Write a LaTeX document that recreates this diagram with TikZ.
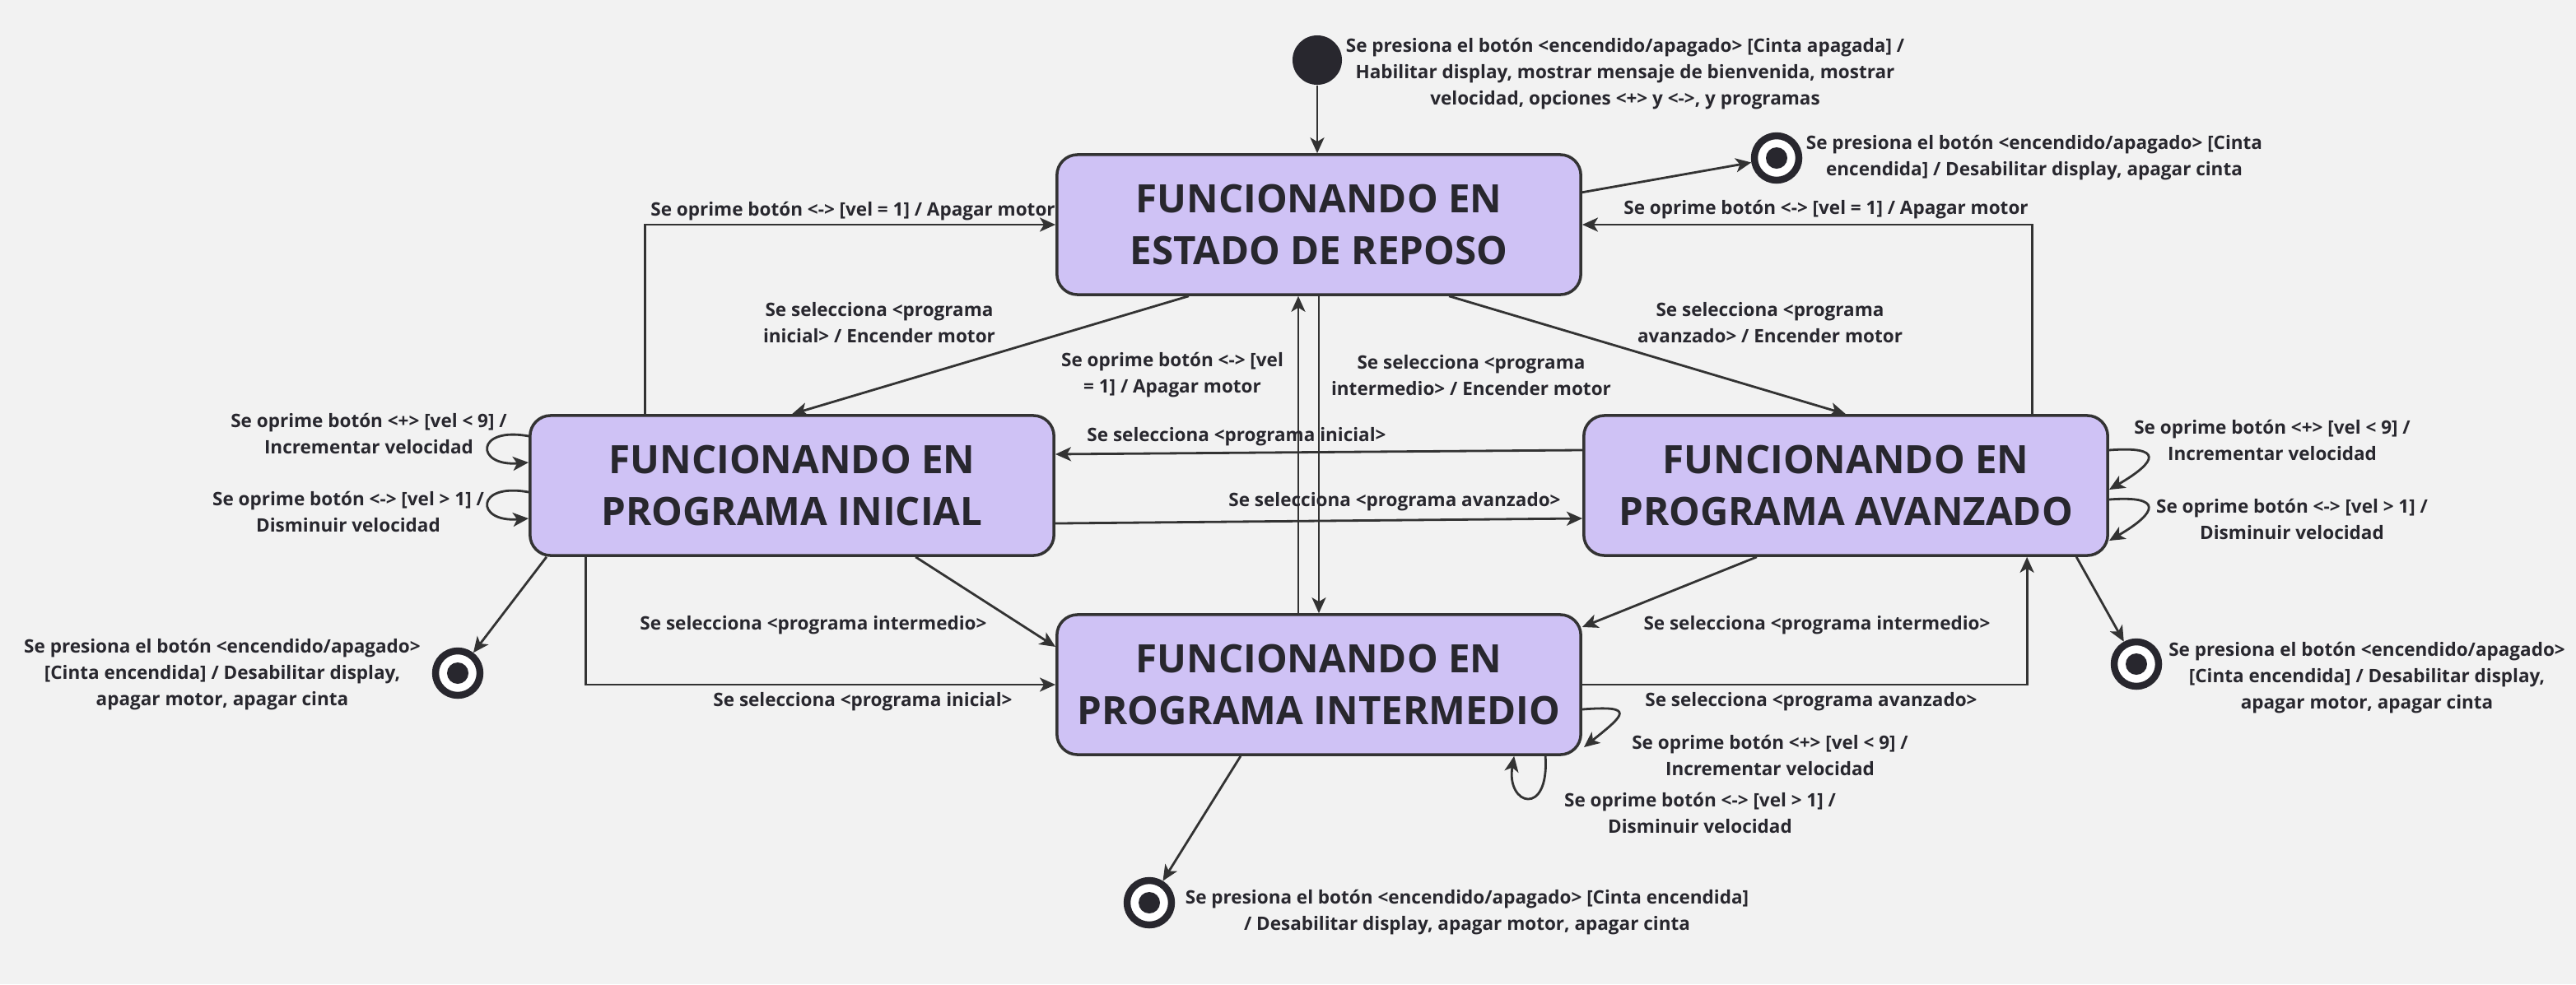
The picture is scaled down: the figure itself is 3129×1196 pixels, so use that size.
\documentclass[tikz,border=0pt]{standalone}
\usepackage{fontspec}
\setmainfont{Open Sans}
\usetikzlibrary{arrows.meta}

\definecolor{fondo}{RGB}{242,242,242}
\definecolor{lila}{RGB}{207,194,245}
\definecolor{trazo}{RGB}{51,51,51}
\definecolor{texto}{RGB}{40,39,46}

\begin{document}
\begin{tikzpicture}[x=0.01cm, y=-0.01cm,
	estado/.style={draw=trazo, line width=1pt, fill=lila, rounded corners=0.25cm,
		minimum width=6.36cm, minimum height=1.7cm, align=center, text=texto,
		font=\fontsize{13.5}{17.9}\selectfont\bfseries},
	etiqueta/.style={align=center, inner sep=0pt, text=texto,
		font=\fontsize{6.4}{9.1}\selectfont\bfseries},
	inicio/.style={circle, fill=texto, minimum size=0.6cm, inner sep=0pt},
	fin/.style={circle, draw=texto, line width=2.4pt, fill=white, minimum size=0.54cm,
		inner sep=0pt, path picture={\fill[texto] (path picture bounding box.center) circle (0.13cm);}},
	flecha/.style={draw=trazo, line width=0.8pt, -{Stealth[length=0.19cm, width=0.17cm, inset=0.05cm]}}
]

	% ---- background

	\path[use as bounding box, fill=fondo] (0,0) rectangle (3129,1196);

	% ---- states

	\node[estado] (reposo)     at (1602,273) {FUNCIONANDO EN\\ESTADO DE REPOSO};
	\node[estado] (inicial)    at (962,590)  {FUNCIONANDO EN\\PROGRAMA INICIAL};
	\node[estado] (avanzado)   at (2242,590) {FUNCIONANDO EN\\PROGRAMA AVANZADO};
	\node[estado] (intermedio) at (1602,832) {FUNCIONANDO EN\\PROGRAMA INTERMEDIO};

	\node[inicio] (ini) at (1600,73) {};

	\foreach \n/\x/\y in {finA/2158/192, finI/556/818, finD/2595/807, finM/1396/1097} {
		\node[fin] (\n) at (\x,\y) {};
	}

	% ---- transitions

	\draw[flecha] (ini) -- (ini |- reposo.north);
	\draw[flecha] (reposo.7) -- (finA);

	\draw[flecha] ([xshift=2.26cm]avanzado.north) |- (reposo.east);
	\draw[flecha] ([xshift=-1.78cm]inicial.north) |- (reposo.west);

	\draw[flecha] ([xshift=-1.58cm]reposo.south) -- (inicial.north);
	\draw[flecha] ([xshift=1.58cm]reposo.south) -- (avanzado.north);

	\draw[flecha] ([xshift=-0.25cm]intermedio.north) -- ([xshift=-0.25cm]reposo.south);
	\draw[flecha] (reposo.south) -- (intermedio.north);

	\draw[flecha] ([yshift=0.43cm]avanzado.west) -- ([yshift=0.38cm]inicial.east);
	\draw[flecha] ([yshift=-0.46cm]inicial.east) -- ([yshift=-0.40cm]avanzado.west);

	\draw[flecha] ([xshift=1.5cm]inicial.south) -- ([yshift=0.46cm]intermedio.west);
	\draw[flecha] ([xshift=-2.5cm]inicial.south) |- (intermedio.west);

	\draw[flecha] ([xshift=-1.08cm]avanzado.south) -- ([yshift=0.7cm]intermedio.east);
	\draw[flecha] (intermedio.east) -| ([xshift=2.2cm]avanzado.south);

	\draw[flecha] ([xshift=-2.98cm]inicial.south) -- (finI);
	\draw[flecha] ([xshift=2.8cm]avanzado.south) -- (finD);
	\draw[flecha] ([xshift=-0.95cm]intermedio.south) -- (finM);

	% ---- self loops

	\draw[flecha] ([yshift=0.60cm]inicial.west) .. controls +(-65,-12) and +(-65,5) .. ([yshift=0.28cm]inicial.west);
	\draw[flecha] ([yshift=-0.08cm]inicial.west) .. controls +(-65,-12) and +(-65,5) .. ([yshift=-0.40cm]inicial.west);

	\draw[flecha] ([yshift=0.43cm]avanzado.east) .. controls +(65,-5) and +(60,-35) .. ([yshift=-0.05cm]avanzado.east);
	\draw[flecha] ([yshift=-0.17cm]avanzado.east) .. controls +(65,-5) and +(60,-35) .. ([yshift=-0.67cm]avanzado.east);

	\draw[flecha] ([yshift=-0.30cm]intermedio.east) .. controls +(65,-5) and +(50,-40) .. ([xshift=0.02cm, yshift=-0.76cm]intermedio.east);
	\draw[flecha] ([xshift=2.75cm]intermedio.south) .. controls +(5,75) and +(-10,60) .. ([xshift=2.37cm]intermedio.south);

	% ---- labels

	\node[etiqueta] (e1) at (1974,90) {Se presiona el botón <encendido/apagado> [Cinta apagada] /\\Habilitar display, mostrar mensaje de bienvenida, mostrar\\velocidad, opciones <+> y <->, y programas};
	\node[etiqueta] (e2) at (2471,192) {Se presiona el botón <encendido/apagado> [Cinta\\encendida] / Desabilitar display, apagar cinta};
	\node[etiqueta] (e3) at (2218,255) {Se oprime botón <-> [vel = 1] / Apagar motor};
	\node[etiqueta] (e4) at (1036,257) {Se oprime botón <-> [vel = 1] / Apagar motor};
	\node[etiqueta] (e5) at (1068,392) {Se selecciona <programa\\inicial> / Encender motor};
	\node[etiqueta] (e6) at (2150,392) {Se selecciona <programa\\avanzado> / Encender motor};
	\node[etiqueta] (e7) at (1424,456) {Se oprime botón <-> [vel\\= 1] / Apagar motor};
	\node[etiqueta] (e8) at (1787,456) {Se selecciona <programa\\intermedio> / Encender motor};
	\node[etiqueta] (e9) at (1502,531) {Se selecciona <programa inicial>};
	\node[etiqueta] (e10) at (1694,610) {Se selecciona <programa avanzado>};
	\node[etiqueta] (e11) at (448,527) {Se oprime botón <+> [vel < 9] /\\Incrementar velocidad};
	\node[etiqueta] (e12) at (423,622) {Se oprime botón <-> [vel > 1] /\\Disminuir velocidad};
	\node[etiqueta] (e13) at (2760,535) {Se oprime botón <+> [vel < 9] /\\Incrementar velocidad};
	\node[etiqueta] (e14) at (2784,631) {Se oprime botón <-> [vel > 1] /\\Disminuir velocidad};
	\node[etiqueta] (e15) at (988,760) {Se selecciona <programa intermedio>};
	\node[etiqueta] (e16) at (1048,853) {Se selecciona <programa inicial>};
	\node[etiqueta] (e17) at (270,820) {Se presiona el botón <encendido/apagado>\\{[}Cinta encendida] / Desabilitar display,\\apagar motor, apagar cinta};
	\node[etiqueta] (e18) at (2207,760) {Se selecciona <programa intermedio>};
	\node[etiqueta] (e19) at (2200,853) {Se selecciona <programa avanzado>};
	\node[etiqueta] (e20) at (2875,824) {Se presiona el botón <encendido/apagado>\\{[}Cinta encendida] / Desabilitar display,\\apagar motor, apagar cinta};
	\node[etiqueta] (e21) at (2150,918) {Se oprime botón <+> [vel < 9] /\\Incrementar velocidad};
	\node[etiqueta] (e22) at (2065,988) {Se oprime botón <-> [vel > 1] /\\Disminuir velocidad};
	\node[etiqueta] (e23) at (1782,1109) {Se presiona el botón <encendido/apagado> [Cinta encendida]\\/ Desabilitar display, apagar motor, apagar cinta};

\end{tikzpicture}
\end{document}
